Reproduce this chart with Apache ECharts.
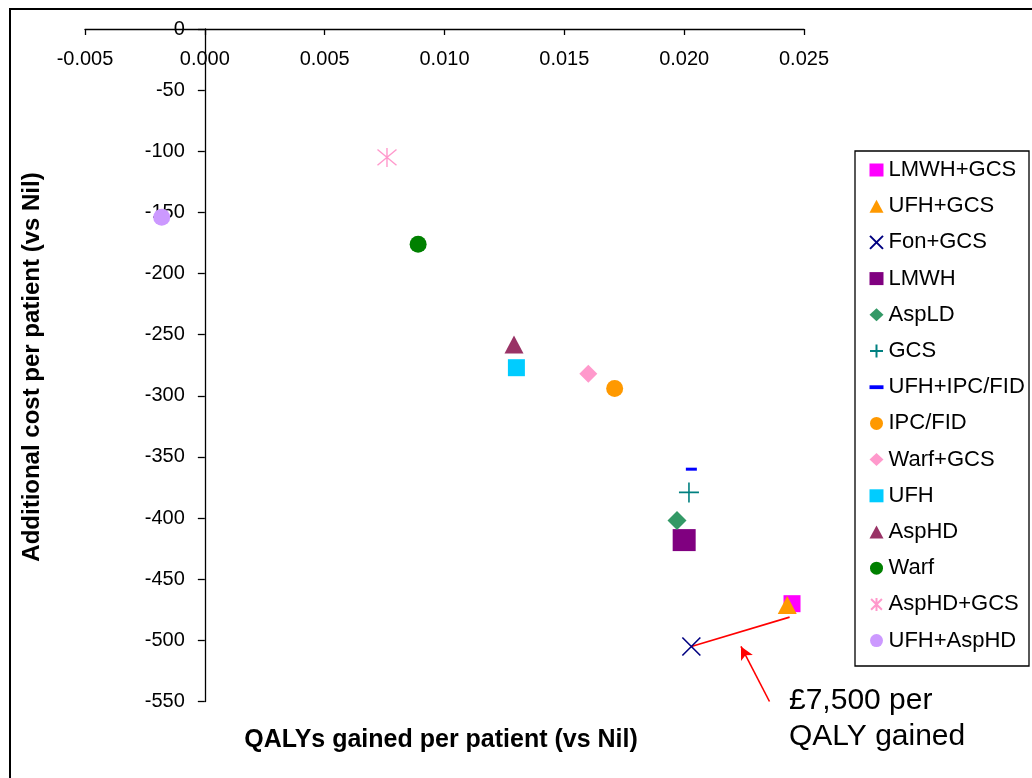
<!DOCTYPE html>
<html>
<head>
<meta charset="utf-8">
<title>Cost-effectiveness plane</title>
<script src="https://cdn.jsdelivr.net/npm/echarts@6/dist/echarts.min.js"></script>
<style>
  html, body { margin: 0; padding: 0; background: #ffffff; }
  #chart { width: 1032px; height: 778px; }
</style>
</head>
<body>
<div id="chart"></div>
<script>
// Strategies, in legend order
const strategies = ['LMWH+GCS', 'UFH+GCS', 'Fon+GCS', 'LMWH', 'AspLD', 'GCS', 'UFH+IPC/FID',
  'IPC/FID', 'Warf+GCS', 'UFH', 'AspHD', 'Warf', 'AspHD+GCS', 'UFH+AspHD'];
// QALYs gained per patient vs Nil
const qalysGained = [0.0245, 0.0243, 0.0203, 0.0200, 0.0197, 0.0202, 0.0203,
  0.0171, 0.0160, 0.0130, 0.0129, 0.0089, 0.0076, -0.0018];
// Additional cost per patient vs Nil (GBP)
const additionalCost = [-470, -471, -505, -418, -402, -379, -360,
  -294, -282, -277, -258, -176, -105, -154];

// Axis ticks
const xTicks = { min: -0.005, max: 0.025, interval: 0.005 };
const yTicks = { min: -550, max: 0, interval: 50 };

// ICER segment (Fon+GCS towards UFH+GCS) and its pointer arrow
const icerLineX = [0.0203, 0.0244];
const icerLineY = [-505, -481];
const arrowX = [0.02356, 0.02237];
const arrowY = [-550, -505];
const icerLabel = '£7,500 per\nQALY gained';

const FONT = '"Liberation Sans", Arial, sans-serif';

// Plot area in pixels
const GRID = { left: 85, top: 29, width: 719, height: 672.5 };

// Marker look per strategy
const PATH_X = 'path://M0,0L10,10M10,0L0,10';
const PATH_PLUS = 'path://M5,0L5,10M0,5L10,5';
const PATH_STAR = 'path://M0,0L10,10M10,0L0,10M5,-1L5,11';
const PATH_DASH = 'path://M0,0L11,0L11,3L0,3Z';
const markers = [
  { symbol: 'rect', size: 17, color: '#FF00FF' },
  { symbol: 'triangle', size: [19, 18], color: '#FF9900' },
  { symbol: PATH_X, size: 18, color: '#000080', stroke: 1.6 },
  { symbol: 'rect', size: [23, 22], color: '#800080' },
  { symbol: 'diamond', size: 19, color: '#339966' },
  { symbol: PATH_PLUS, size: 20, color: '#008080', stroke: 1.6 },
  { symbol: PATH_DASH, size: [11, 3], color: '#0000FF' },
  { symbol: 'circle', size: 17, color: '#FF9900' },
  { symbol: 'diamond', size: 18, color: '#FF99CC' },
  { symbol: 'rect', size: 17, color: '#00CCFF' },
  { symbol: 'triangle', size: [19, 18], color: '#993366' },
  { symbol: 'circle', size: 17, color: '#008000' },
  { symbol: PATH_STAR, size: 19, color: '#FF99CC', stroke: 1.4 },
  { symbol: 'circle', size: 17, color: '#CC99FF' }
];

const scatterSeries = strategies.map((name, i) => {
  const m = markers[i];
  const itemStyle = { color: m.color, opacity: 1 };
  if (m.stroke) {
    itemStyle.borderColor = m.color;
    itemStyle.borderWidth = m.stroke;
  }
  return {
    name: name,
    type: 'scatter',
    symbol: m.symbol,
    symbolSize: m.size,
    itemStyle: itemStyle,
    emphasis: { disabled: true },
    z: 3,
    data: [[qalysGained[i], additionalCost[i]]]
  };
});

const icerSeries = {
  name: 'icer',
  type: 'line',
  data: icerLineX.map((x, i) => [x, icerLineY[i]]),
  showSymbol: false,
  symbol: 'none',
  lineStyle: { color: '#FF0000', width: 1.6 },
  silent: true,
  z: 2,
  markLine: {
    silent: true,
    symbol: ['none', 'arrow'],
    symbolSize: [10, 13],
    label: { show: false },
    lineStyle: { color: '#FF0000', width: 1.6, type: 'solid' },
    data: [[
      { coord: [arrowX[0], arrowY[0]] },
      { coord: [arrowX[1], arrowY[1]] }
    ]]
  }
};

// The vertical axis sits where QALYs gained = 0
const yAxisShift = GRID.width * (0 - xTicks.min) / (xTicks.max - xTicks.min);

const chart = echarts.init(document.getElementById('chart'), null, { renderer: 'canvas' });

chart.setOption({
  animation: false,
  backgroundColor: '#ffffff',
  textStyle: { fontFamily: FONT, color: '#000' },
  grid: { left: GRID.left, top: GRID.top, width: GRID.width, height: GRID.height, containLabel: false },
  xAxis: {
    type: 'value',
    position: 'top',
    min: xTicks.min,
    max: xTicks.max,
    interval: xTicks.interval,
    axisLine: { show: true, onZero: false, lineStyle: { color: '#000', width: 1.3 } },
    axisTick: { show: true, inside: true, length: 6, lineStyle: { color: '#000', width: 1.3 } },
    axisLabel: {
      inside: true, margin: 20, fontSize: 20, color: '#000', fontFamily: FONT,
      formatter: v => v.toFixed(3)
    },
    splitLine: { show: false }
  },
  yAxis: {
    type: 'value',
    position: 'left',
    offset: -yAxisShift,
    min: yTicks.min,
    max: yTicks.max,
    interval: yTicks.interval,
    axisLine: { show: true, onZero: false, lineStyle: { color: '#000', width: 1.3 } },
    axisTick: { show: true, length: 7, lineStyle: { color: '#000', width: 1.3 } },
    axisLabel: { margin: 20, fontSize: 20, color: '#000', fontFamily: FONT },
    splitLine: { show: false }
  },
  legend: {
    orient: 'vertical',
    left: 869,
    top: 159,
    padding: 0,
    itemWidth: 14,
    itemHeight: 13,
    itemGap: 14.2,
    itemTextGap: 6,
    selectedMode: false,
    data: strategies,
    textStyle: { fontSize: 22, lineHeight: 22, color: '#000', fontFamily: FONT }
  },
  graphic: [
    {
      type: 'rect', silent: true, z: -1,
      shape: { x: 10, y: 9, width: 1040, height: 800 },
      style: { fill: 'none', stroke: '#000', lineWidth: 2 }
    },
    {
      type: 'rect', silent: true,
      shape: { x: 855, y: 151, width: 174, height: 515 },
      style: { fill: 'none', stroke: '#000', lineWidth: 1.3 }
    },
    {
      type: 'text', silent: true, x: 441, y: 740,
      style: {
        text: 'QALYs gained per patient (vs Nil)', fill: '#000',
        font: 'bold 25px ' + FONT, textAlign: 'center', textVerticalAlign: 'middle'
      }
    },
    {
      type: 'text', silent: true, x: 32, y: 367, rotation: Math.PI / 2,
      style: {
        text: 'Additional cost per patient (vs Nil)', fill: '#000',
        font: 'bold 24px ' + FONT, textAlign: 'center', textVerticalAlign: 'middle'
      }
    },
    {
      type: 'text', silent: true, x: 789, y: 683,
      style: {
        text: icerLabel, fill: '#000', font: '30px ' + FONT, lineHeight: 36,
        textAlign: 'left', textVerticalAlign: 'top'
      }
    }
  ],
  series: scatterSeries.concat([icerSeries])
});
</script>
</body>
</html>
